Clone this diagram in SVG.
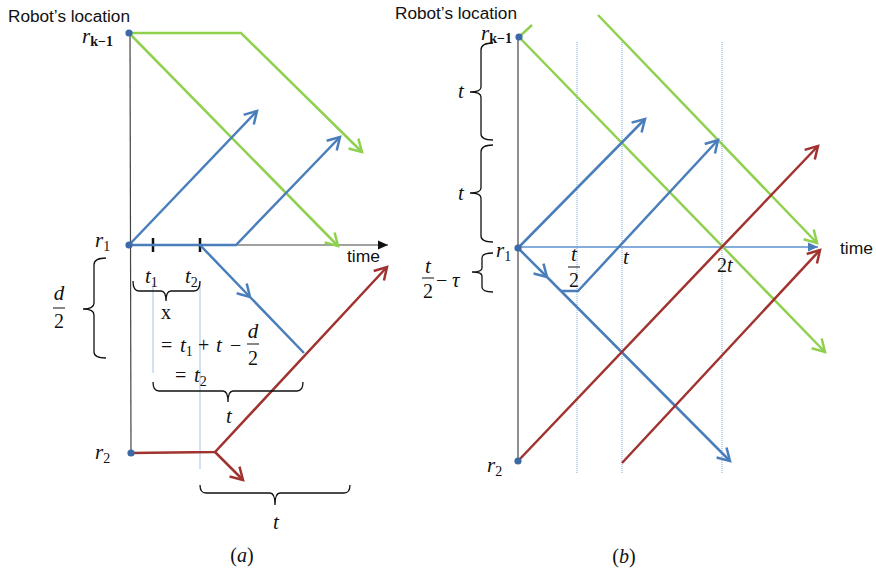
<svg xmlns="http://www.w3.org/2000/svg" width="876" height="571" viewBox="0 0 876 571">
<style>
.sans{font-family:"Liberation Sans","Open Sans",sans-serif;font-size:16px;fill:#111}
.m{font-family:"Liberation Serif","DejaVu Serif",serif;font-style:italic;font-size:21px;fill:#111}
.mu{font-family:"Liberation Serif","DejaVu Serif",serif;font-size:20px;fill:#111}
.sub{font-size:14px;font-style:normal}
.ax{stroke:#444;stroke-width:1.2;fill:none}
.g{stroke:#8fd14f;stroke-width:2.5;fill:none}
.b{stroke:#4a7ebb;stroke-width:2.5;fill:none}
.r{stroke:#a0332f;stroke-width:2.5;fill:none}
.br{stroke:#111;stroke-width:1.3;fill:none}
.guide{stroke:#b4cdee;stroke-width:1.2;fill:none}
.dotl{stroke:#7fa7dc;stroke-width:1;stroke-dasharray:1 1;fill:none}
.node{fill:#3d6aa6}
.tick{stroke:#111;stroke-width:2.5}
</style>
<defs>
<marker id="ag" markerUnits="userSpaceOnUse" markerWidth="20" markerHeight="20" viewBox="-16 -10 20 20" refX="0" refY="0" orient="auto"><path d="M-12,-7 L0,0 L-12,7" fill="none" stroke="#8fd14f" stroke-width="2.5"/></marker>
<marker id="ab" markerUnits="userSpaceOnUse" markerWidth="20" markerHeight="20" viewBox="-16 -10 20 20" refX="0" refY="0" orient="auto"><path d="M-12,-7 L0,0 L-12,7" fill="none" stroke="#4a7ebb" stroke-width="2.5"/></marker>
<marker id="ar" markerUnits="userSpaceOnUse" markerWidth="20" markerHeight="20" viewBox="-16 -10 20 20" refX="0" refY="0" orient="auto"><path d="M-12,-7 L0,0 L-12,7" fill="none" stroke="#a0332f" stroke-width="2.5"/></marker>
<marker id="tk" markerUnits="userSpaceOnUse" markerWidth="12" markerHeight="12" viewBox="-11 -6 12 12" refX="0" refY="0" orient="auto"><path d="M-10,-4.5 L0,0 L-10,4.5 Z" fill="#111"/></marker>
<marker id="tb" markerUnits="userSpaceOnUse" markerWidth="12" markerHeight="12" viewBox="-11 -6 12 12" refX="0" refY="0" orient="auto"><path d="M-10,-4.5 L0,0 L-10,4.5 Z" fill="#4a7ebb"/></marker>
</defs>

<!-- ============ Panel (a) ============ -->
<g id="panel-a-axes">
<text class="sans" x="8" y="22" textLength="122" lengthAdjust="spacingAndGlyphs">Robot’s location</text>
<line class="ax" x1="130" y1="33" x2="131" y2="453"/>
<line class="ax" x1="130" y1="245" x2="388" y2="245" marker-end="url(#tk)"/>
<text class="sans" x="347" y="262" textLength="33" lengthAdjust="spacingAndGlyphs">time</text>
<line class="tick" x1="153" y1="238" x2="153" y2="252"/>
<line class="tick" x1="200" y1="238" x2="200" y2="252"/>
<line class="guide" x1="153" y1="284" x2="153" y2="373"/>
<line class="guide" x1="200" y1="282" x2="200" y2="469"/>
</g>

<g id="connectors-a">
<path class="g" d="M129,33 L241,33 L362,152" marker-end="url(#ag)"/>
<path class="g" d="M129,33 L338,246" marker-end="url(#ag)"/>
<path class="b" d="M129,245 L257,111" marker-end="url(#ab)"/>
<path class="b" d="M129,245 L236,245 L340,137" marker-end="url(#ab)"/>
<path class="b" d="M200,245 L250,297 L304,353" marker-mid="url(#ab)"/>
<path class="r" d="M131,453 L215,452 L387,267" marker-end="url(#ar)"/>
<path class="r" d="M215,452 L243,480" marker-end="url(#ar)"/>
</g>

<g id="node-a-rk1">
<circle class="node" cx="129" cy="33" r="3.6"/>
<text class="m" x="82" y="43">r<tspan class="sub" dy="3" font-weight="bold">k−1</tspan></text>
</g>
<g id="node-a-r1">
<circle class="node" cx="129" cy="245" r="3.6"/>
<text class="m" x="95" y="247">r<tspan class="sub" dy="4">1</tspan></text>
</g>
<g id="node-a-r2">
<circle class="node" cx="131" cy="453" r="3.6"/>
<text class="m" x="95" y="459">r<tspan class="sub" dy="4">2</tspan></text>
</g>

<g id="labels-a">
<text class="m" x="145" y="283">t<tspan class="sub" dy="4">1</tspan></text>
<text class="m" x="185" y="283">t<tspan class="sub" dy="4">2</tspan></text>
<path class="br" d="M133,281 Q133,291 139,291 L161,291 Q166,291 166,301 Q166,291 171,291 L194,291 Q200,291 200,281"/>
<text class="mu" x="166" y="319" text-anchor="middle" font-size="18">x</text>
<text class="mu" x="161" y="352">=</text>
<text class="m" x="180" y="352">t<tspan class="sub" dy="4">1</tspan></text>
<text class="mu" x="198" y="352">+</text>
<text class="m" x="216" y="352">t</text>
<text class="mu" x="230" y="352">−</text>
<text class="m" x="253" y="338" text-anchor="middle">d</text>
<line x1="247" y1="344" x2="259" y2="344" stroke="#111" stroke-width="1"/>
<text class="mu" x="253" y="365" text-anchor="middle">2</text>
<text class="mu" x="175" y="382">=</text>
<text class="m" x="194" y="382">t<tspan class="sub" dy="4">2</tspan></text>
<path class="br" d="M153,382 Q153,391 159,391 L223,391 Q228,391 228,402 Q228,391 233,391 L297,391 Q303,391 303,382"/>
<text class="m" x="229" y="423" text-anchor="middle">t</text>
<path class="br" d="M200,485 Q200,493 206,493 L270,493 Q275,493 275,505 Q275,493 280,493 L344,493 Q350,493 350,485"/>
<text class="m" x="276" y="529" text-anchor="middle">t</text>
<path class="br" d="M106,258 Q94,258 94,265 L94,303 Q94,309 83,309 Q94,309 94,315 L94,352 Q94,358 106,358"/>
<text class="m" x="59" y="300" text-anchor="middle">d</text>
<line x1="53" y1="308" x2="65" y2="308" stroke="#111" stroke-width="1"/>
<text class="mu" x="59" y="328" text-anchor="middle">2</text>
<text class="mu" x="242" y="562" text-anchor="middle" font-size="22">(<tspan font-style="italic">a</tspan>)</text>
</g>

<!-- ============ Panel (b) ============ -->
<g id="panel-b-axes">
<text class="sans" x="395" y="19" textLength="122" lengthAdjust="spacingAndGlyphs">Robot’s location</text>
<line class="ax" x1="518" y1="37" x2="518" y2="461"/>
<line class="dotl" x1="577" y1="42" x2="577" y2="473"/>
<line class="dotl" x1="622" y1="42" x2="622" y2="473"/>
<line class="dotl" x1="722" y1="42" x2="722" y2="473"/>
<line x1="518" y1="247" x2="818" y2="247" stroke="#5b8fd0" stroke-width="1.3" marker-end="url(#tb)"/>
<text class="sans" x="840" y="254" textLength="33" lengthAdjust="spacingAndGlyphs">time</text>
</g>

<g id="connectors-b">
<path class="g" d="M519,37 L532,25"/>
<path class="g" d="M519,37 L825,352" marker-end="url(#ag)"/>
<path class="g" d="M598,15 L817,243" marker-end="url(#ag)"/>
<path class="b" d="M518,248 L645,119" marker-end="url(#ab)"/>
<path class="b" d="M518,248 L547,277 L730,461" marker-mid="url(#ab)" marker-end="url(#ab)"/>
<path class="b" d="M561,291 L578,291 L718,140" marker-end="url(#ab)"/>
<path class="r" d="M518,461 L818,146" marker-end="url(#ar)"/>
<path class="r" d="M622,463 L820,250" marker-end="url(#ar)"/>
</g>

<g id="node-b-rk1">
<circle class="node" cx="519" cy="37" r="3.6"/>
<text class="m" x="481" y="40" font-size="19">r<tspan class="sub" dy="3" font-weight="bold">k−1</tspan></text>
</g>
<g id="node-b-r1">
<circle class="node" cx="518" cy="248" r="3.6"/>
<text class="m" x="496" y="257">r<tspan class="sub" dy="4">1</tspan></text>
</g>
<g id="node-b-r2">
<circle class="node" cx="518" cy="461" r="3.6"/>
<text class="m" x="487" y="472">r<tspan class="sub" dy="4">2</tspan></text>
</g>

<g id="labels-b">
<path class="br" d="M493,43 Q481,43 481,50 L481,87 Q481,92 470,92 Q481,92 481,97 L481,134 Q481,140 493,140"/>
<text class="m" x="461" y="98" text-anchor="middle">t</text>
<path class="br" d="M493,145 Q481,145 481,152 L481,188 Q481,193 470,193 Q481,193 481,198 L481,236 Q481,242 493,242"/>
<text class="m" x="461" y="200" text-anchor="middle">t</text>
<path class="br" d="M493,253 Q482,253 482,258 L482,268 Q482,272 472,272 Q482,272 482,276 L482,287 Q482,292 493,292"/>
<text class="m" x="428" y="273" text-anchor="middle">t</text>
<line x1="422" y1="278" x2="434" y2="278" stroke="#111" stroke-width="1"/>
<text class="mu" x="428" y="298" text-anchor="middle">2</text>
<text class="mu" x="436" y="287">−</text>
<text class="m" x="452" y="287">τ</text>
<text class="m" x="574" y="261" text-anchor="middle">t</text>
<line x1="568" y1="267" x2="580" y2="267" stroke="#111" stroke-width="1"/>
<text class="mu" x="574" y="287" text-anchor="middle">2</text>
<text class="m" x="623" y="264">t</text>
<text class="mu" x="717" y="272">2<tspan font-style="italic">t</tspan></text>
<text class="mu" x="624" y="563" text-anchor="middle" font-size="22">(<tspan font-style="italic">b</tspan>)</text>
</g>
</svg>
